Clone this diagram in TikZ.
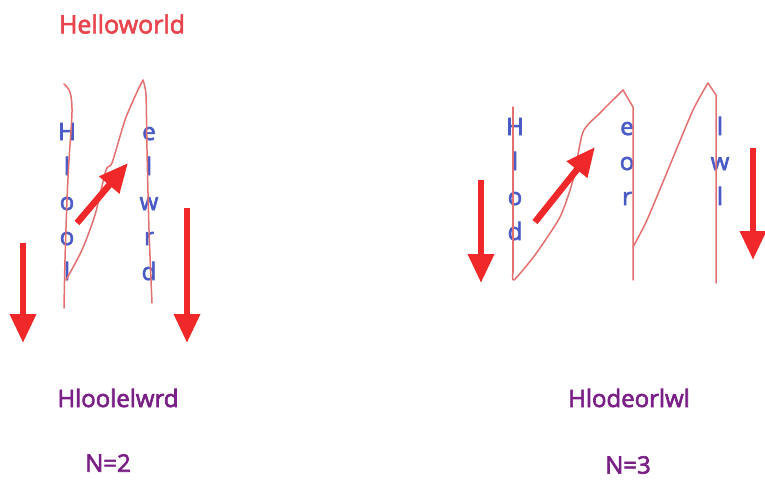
\documentclass[tikz,border=0pt]{standalone}
\usepackage{fontspec}
\setmainfont{Open Sans}
\newfontfamily\heavysans{Open Sans}[FakeBold=2.6]
\usepackage{tikz}
\usetikzlibrary{arrows.meta}
\definecolor{titlered}{HTML}{E8454F}
\definecolor{letterblue}{HTML}{4A5BC6}
\definecolor{outpurple}{HTML}{7A1F86}
\definecolor{zigred}{HTML}{E37070}
\definecolor{arrowred}{HTML}{F0282A}
\tikzset{
  letter/.style={anchor=base, inner sep=0pt, color=letterblue, font=\heavysans\fontsize{24}{28}\selectfont},
  title/.style={color=titlered, inner sep=0pt, font=\heavysans\fontsize{25}{30}\selectfont},
  result/.style={color=outpurple, inner sep=0pt, font=\heavysans\fontsize{24}{28}\selectfont},
  zig/.style={draw=zigred, line width=1.5pt, line join=round, line cap=round},
  bigar/.style={-{Triangle[width=25pt,length=29pt]}, line width=6.5pt, draw=arrowred, color=arrowred},
}
\begin{document}
\begin{tikzpicture}[x=1pt, y=-1pt]
\useasboundingbox (0,0) rectangle (765,483);

% N=2
\node[title] (input) at (122,24) {Helloworld};
\foreach \ch [count=\i] in {H,l,o,o,l}
  \node[letter] (p\i) at (67,105+35*\i) {\ch};
\foreach \ch [count=\i] in {e,l,w,r,d}
  \node[letter] (q\i) at (149,105+35*\i) {\ch};
\draw[zig] plot[smooth, tension=0.5] coordinates {(64,84) (70,92) (72,112) (69,160) (67,200) (65,260) (64,308)};
\draw[zig] plot[smooth, tension=0.4] coordinates {(66,280) (82,250) (95,215) (106,170) (112,163) (125,120) (137,92) (143,80)};
\draw[zig] plot[smooth, tension=0.4] coordinates {(143,80) (146,95) (147,150) (149,230) (152,303)};
\coordinate (d2a) at (23,243);  \coordinate (d2b) at (23,343);
\coordinate (u2a) at (77,223);  \coordinate (u2b) at (128,163);
\coordinate (e2a) at (187,208); \coordinate (e2b) at (187,343);
\draw[bigar] (d2a) -- (d2b);
\draw[bigar] (u2a) -- (u2b);
\draw[bigar] (e2a) -- (e2b);
\node[result] (out2) at (118,398) {Hloolelwrd};
\node[result] (n2) at (108,463) {N=2};

% N=3
\foreach \ch [count=\i] in {H,l,o,d}
  \node[letter] (r\i) at (515,100+35*\i) {\ch};
\foreach \ch [count=\i] in {e,o,r}
  \node[letter] (s\i) at (627,100+35*\i) {\ch};
\foreach \ch [count=\i] in {l,w,l}
  \node[letter] (t\i) at (720,100+35*\i) {\ch};
\draw[zig] (513,107) -- (513,272);
\draw[zig] plot[smooth, tension=0.4] coordinates {(513,272) (514,280) (535,255) (560,217) (573,180)
  (583,132) (600,113) (623,90)};
\draw[zig] (623,90) -- (633,107) -- (633,280);
\draw[zig] plot[smooth, tension=0.4] coordinates {(633,247) (647,220) (670,165) (693,110) (708,83)};
\draw[zig] (708,83) -- (716,95) -- (716,283);
\coordinate (d3a) at (481,180); \coordinate (d3b) at (481,283);
\coordinate (u3a) at (535,222); \coordinate (u3b) at (595,147);
\coordinate (e3a) at (753,148); \coordinate (e3b) at (753,260);
\draw[bigar] (d3a) -- (d3b);
\draw[bigar] (u3a) -- (u3b);
\draw[bigar] (e3a) -- (e3b);
\node[result] (out3) at (629,398) {Hlodeorlwl};
\node[result] (n3) at (628,465) {N=3};
\end{tikzpicture}
\end{document}
